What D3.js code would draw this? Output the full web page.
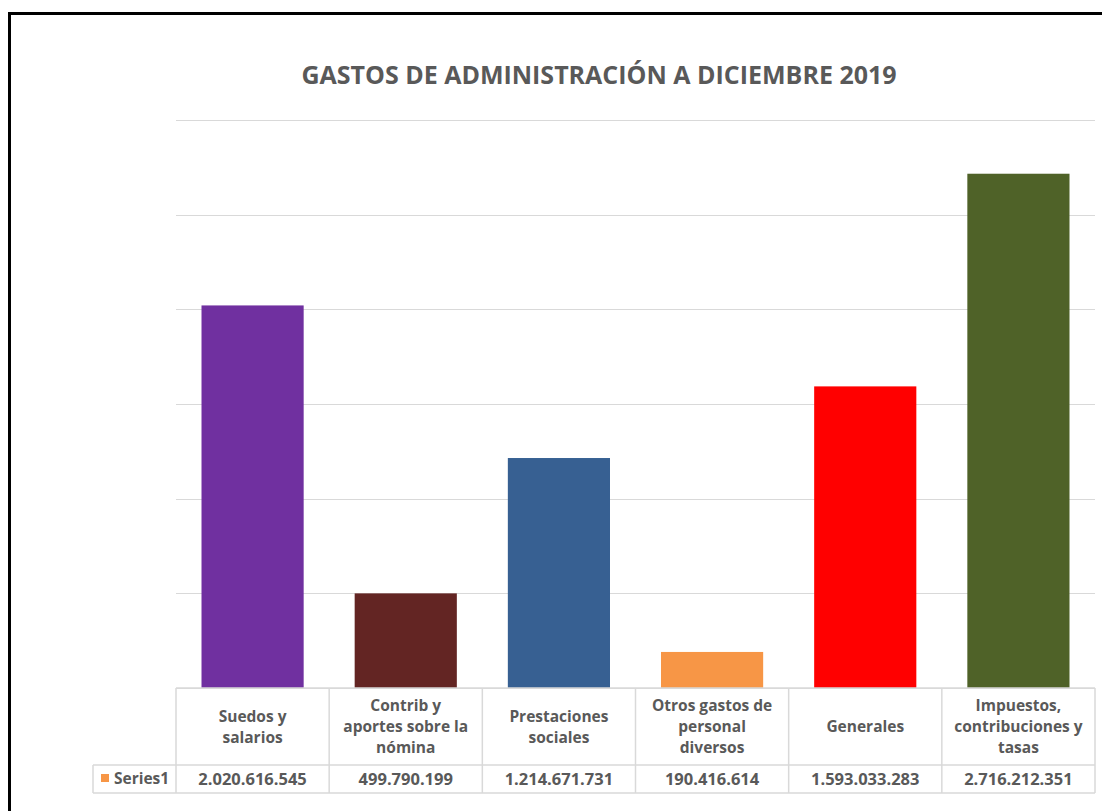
<!DOCTYPE html>
<meta charset="utf-8">
<style>
  body { margin: 0; background: #fff; }
  text { font-family: "Open Sans", "DejaVu Sans", sans-serif; font-weight: 700; fill: #595959; }
</style>
<script src="https://d3js.org/d3.v7.min.js"></script>
<svg width="1102" height="811"></svg>
<script>
const categories = [
  'Suedos y\nsalarios',
  'Contrib y\naportes sobre la\nnómina',
  'Prestaciones\nsociales',
  'Otros gastos de\npersonal\ndiversos',
  'Generales',
  'Impuestos,\ncontribuciones y\ntasas'
];
const values = [2020616545, 499790199, 1214671731, 190416614, 1593033283, 2716212351];
const colors = ['#7030A0', '#632523', '#376092', '#F79646', '#FF0000', '#4F6228'];
const gridTicks = [0, 500000000, 1000000000, 1500000000, 2000000000, 2500000000, 3000000000];
const seriesName = 'Series1';
const title = 'GASTOS DE ADMINISTRACIÓN A DICIEMBRE 2019';

const svg = d3.select('svg');

// outer frame (runs off the right and bottom edges)
svg.append('rect')
  .attr('x', 9.5).attr('y', 13.5)
  .attr('width', 1110).attr('height', 820)
  .attr('fill', '#fff').attr('stroke', '#000').attr('stroke-width', 3);

const plotLeft = 176, plotRight = 1095, plotTop = 120, base = 688;

const x = d3.scaleBand()
  .domain(d3.range(categories.length))
  .range([plotLeft, plotRight])
  .paddingInner(0.333)
  .paddingOuter(0.1665);

const y = d3.scaleLinear()
  .domain([0, 3000000000])
  .range([base, plotTop]);

svg.append('text')
  .attr('x', 599).attr('y', 84)
  .attr('text-anchor', 'middle')
  .attr('font-size', 25)
  .text(title);

// gridlines
svg.append('g')
  .selectAll('line')
  .data(gridTicks)
  .enter().append('line')
  .attr('x1', plotLeft).attr('x2', plotRight)
  .attr('y1', d => Math.round(y(d)) + 0.5).attr('y2', d => Math.round(y(d)) + 0.5)
  .attr('stroke', '#D9D9D9').attr('stroke-width', 1);

// bars
svg.append('g')
  .selectAll('rect')
  .data(values)
  .enter().append('rect')
  .attr('x', (d, i) => x(i))
  .attr('width', x.bandwidth())
  .attr('y', d => y(d))
  .attr('height', d => base - y(d))
  .attr('fill', (d, i) => colors[i]);

// data table
const step = (plotRight - plotLeft) / categories.length;
const rowSep = 765, tableBottom = 793, legendLeft = 93;
const colX = d3.range(categories.length + 1).map(i => plotLeft + i * step);
const tbl = svg.append('g').attr('stroke', '#D9D9D9').attr('stroke-width', 1.5);
colX.forEach(cx => {
  tbl.append('line').attr('x1', cx).attr('x2', cx).attr('y1', base).attr('y2', tableBottom);
});
tbl.append('line').attr('x1', plotLeft).attr('x2', plotRight).attr('y1', base).attr('y2', base);
tbl.append('line').attr('x1', legendLeft).attr('x2', plotRight).attr('y1', rowSep).attr('y2', rowSep);
tbl.append('line').attr('x1', legendLeft).attr('x2', plotRight).attr('y1', tableBottom).attr('y2', tableBottom);
tbl.append('line').attr('x1', legendLeft).attr('x2', legendLeft).attr('y1', rowSep).attr('y2', tableBottom);

const lineH = 21;
categories.forEach((c, i) => {
  const lines = c.split('\n');
  const cx = plotLeft + (i + 0.5) * step;
  const y0 = 726 - (lines.length - 1) * lineH / 2 + 6;
  const t = svg.append('text').attr('text-anchor', 'middle').attr('font-size', 15.5);
  lines.forEach((l, j) => {
    t.append('tspan').attr('x', cx).attr('y', y0 + j * lineH).text(l);
  });
});

const fmt = d3.formatLocale({ decimal: ',', thousands: '.', grouping: [3], currency: ['', ''] }).format(',d');
values.forEach((v, i) => {
  svg.append('text')
    .attr('x', plotLeft + (i + 0.5) * step).attr('y', 785)
    .attr('text-anchor', 'middle').attr('font-size', 16.5)
    .text(fmt(v));
});

// legend key
svg.append('rect').attr('x', 101).attr('y', 774).attr('width', 8).attr('height', 8).attr('fill', colors[3]);
svg.append('text').attr('x', 114).attr('y', 784).attr('font-size', 15.5).text(seriesName);
</script>
